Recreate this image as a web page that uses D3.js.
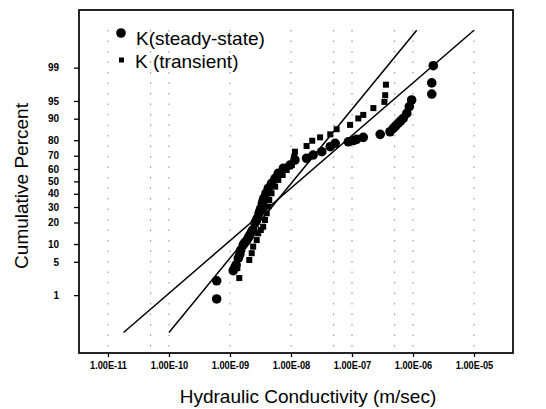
<!DOCTYPE html>
<html>
<head>
<meta charset="utf-8">
<script src="https://cdn.jsdelivr.net/npm/d3@7"></script>
<style>
  body { margin: 0; background: #fff; }
  svg { font-family: "Liberation Sans", Arial, sans-serif; }
</style>
</head>
<body>
<div id="chart"></div>
<script>
// probability plot of hydraulic conductivity

var xTicks = [1e-11, 1e-10, 1e-9, 1e-8, 1e-7, 1e-6, 1e-5];
var xGrid = [1e-11, 5e-11, 1e-10, 1e-9, 1e-8, 5e-8, 1e-7, 5e-7, 1e-6, 1e-5];
var yTicks = [1, 5, 10, 20, 30, 40, 50, 60, 70, 80, 90, 95, 99];

// K (m/sec), cumulative percent
var steadyK = [6.05e-10, 6.05e-10, 1.13e-9, 1.2e-9, 1.26e-9, 1.37e-9, 1.45e-9, 1.5e-9, 1.65e-9, 1.75e-9,
  1.88e-9, 2.0e-9, 2.13e-9, 2.25e-9, 2.36e-9, 2.57e-9, 2.7e-9, 2.8e-9, 3.0e-9, 3.1e-9,
  3.2e-9, 3.4e-9, 3.5e-9, 3.6e-9, 3.9e-9, 4.25e-9, 4.8e-9, 5.5e-9, 6.2e-9, 7.5e-9,
  9.6e-9, 1.16e-8, 1.8e-8, 2.3e-8, 3.2e-8, 4.4e-8, 5.3e-8, 8.7e-8, 1.05e-7, 1.19e-7,
  1.53e-7, 2.9e-7, 4.2e-7, 4.75e-7, 5.2e-7, 5.75e-7, 6.3e-7, 6.9e-7, 7.9e-7, 8.7e-7,
  9.5e-7, 2.03e-6, 2.03e-6, 2.15e-6];
var steadyP = [0.81, 2.1, 3.4, 3.9, 4.4, 5.8, 6.8, 8.0, 9.7, 10.5,
  11.3, 12.5, 13.7, 15.0, 16.0, 19.6, 21.0, 22.5, 25.7, 27.3,
  29.1, 32.7, 34.6, 36.5, 40.4, 44.4, 48.4, 52.5, 56.6, 60.6,
  63.1, 66.9, 68.2, 70.5, 72.8, 76.1, 78.2, 79.1, 79.8, 80.5,
  81.6, 83.2, 84.5, 86.1, 87.2, 88.3, 89.2, 90.1, 91.8, 93.7,
  95.2, 96.3, 97.8, 99.1];

var transK = [1.42e-9, 1.32e-9, 2.07e-9, 2.27e-9, 2.4e-9, 2.74e-9, 2.9e-9, 3.2e-9, 3.5e-9, 3.75e-9,
  4.0e-9, 4.25e-9, 4.4e-9, 4.8e-9, 5.5e-9, 6.2e-9, 7.3e-9, 8.5e-9, 1.03e-8, 1.13e-8,
  1.16e-8, 1.8e-8, 2.23e-8, 3.0e-8, 4.4e-8, 5.6e-8, 9.3e-8, 1.27e-7, 1.53e-7, 2.24e-7,
  3.4e-7, 3.5e-7, 3.6e-7];
var transP = [2.4, 3.8, 5.4, 7.1, 9.1, 11.5, 14.4, 16.0, 17.7, 21.5,
  25.7, 30.3, 35.2, 40.4, 45.7, 51.2, 55.2, 59.2, 63.1, 69.3,
  72.8, 76.5, 79.7, 81.6, 83.2, 85.7, 87.6, 90.1, 91.3, 93.3,
  94.8, 96.1, 97.6];

// fitted lognormal lines, end points
var fitSteepK = [1e-10, 1.15e-6];
var fitSteepP = [0.1, 99.9];
var fitFlatK = [1.8e-11, 1e-5];
var fitFlatP = [0.1, 99.9];

// inverse normal cdf (Acklam)
function probit(p) {
  var a = [-3.969683028665376e+01, 2.209460984245205e+02, -2.759285104469687e+02, 1.383577518672690e+02, -3.066479806614716e+01, 2.506628277459239e+00];
  var b = [-5.447609879822406e+01, 1.615858368580409e+02, -1.556989798598866e+02, 6.680131188771972e+01, -1.328068155288572e+01];
  var c = [-7.784894002430293e-03, -3.223964580411365e-01, -2.400758277161838e+00, -2.549732539343734e+00, 4.374664141464968e+00, 2.938163982698783e+00];
  var d = [7.784695709041462e-03, 3.224671290700398e-01, 2.445134137142996e+00, 3.754408661907416e+00];
  var q, r;
  if (p < 0.02425) {
    q = Math.sqrt(-2 * Math.log(p));
    return (((((c[0]*q+c[1])*q+c[2])*q+c[3])*q+c[4])*q+c[5]) / ((((d[0]*q+d[1])*q+d[2])*q+d[3])*q+1);
  } else if (p > 1 - 0.02425) {
    q = Math.sqrt(-2 * Math.log(1 - p));
    return -(((((c[0]*q+c[1])*q+c[2])*q+c[3])*q+c[4])*q+c[5]) / ((((d[0]*q+d[1])*q+d[2])*q+d[3])*q+1);
  }
  q = p - 0.5; r = q * q;
  return (((((a[0]*r+a[1])*r+a[2])*r+a[3])*r+a[4])*r+a[5])*q / (((((b[0]*r+b[1])*r+b[2])*r+b[3])*r+b[4])*r+1);
}

var W = 546, H = 409;
var box = {left: 79, top: 10, right: 513, bottom: 353};

var svg = d3.select("#chart").append("svg")
  .attr("width", W).attr("height", H);

var x = d3.scaleLog()
  .domain([Math.pow(10, -11.475), Math.pow(10, -4.361)])
  .range([box.left, box.right]);

var z = d3.scaleLinear()
  .domain([-3.51, 3.505])
  .range([box.bottom, box.top]);
function y(pct) { return z(probit(pct / 100)); }

function fmtE(v) {
  var e = Math.round(Math.log10(v));
  var s = Math.abs(e) < 10 ? "0" + Math.abs(e) : "" + Math.abs(e);
  return "1.00E" + (e < 0 ? "-" : "+") + s;
}

// faint dotted grid
svg.append("g").selectAll("line")
  .data(xGrid).enter().append("line")
  .attr("x1", function(d) { return x(d); }).attr("x2", function(d) { return x(d); })
  .attr("y1", box.top + 20).attr("y2", box.bottom - 4)
  .attr("stroke", "#888").attr("stroke-width", 1)
  .attr("stroke-dasharray", "1.5,9");

// axes
var xAxis = d3.axisBottom(x).tickValues(xTicks).tickFormat(fmtE).tickSize(4).tickSizeOuter(0);
var gx = svg.append("g").attr("transform", "translate(0," + box.bottom + ")").call(xAxis);
gx.select(".domain").remove();
gx.selectAll("line").attr("stroke", "#000").attr("stroke-width", 1.3);
gx.selectAll("text")
  .attr("y", 13).attr("dy", "0.32em")
  .attr("transform", "scale(0.88,1)")
  .style("font-size", "10.5px").style("font-weight", "bold");

var yAxis = d3.axisLeft(z).tickValues(yTicks.map(function(p) { return probit(p / 100); }))
  .tickFormat(function(v, i) { return yTicks[i]; }).tickSize(5).tickSizeOuter(0);
var gy = svg.append("g").attr("transform", "translate(" + box.left + ",0)").call(yAxis);
gy.select(".domain").remove();
gy.selectAll("line").attr("stroke", "#000").attr("stroke-width", 1.3);
gy.selectAll("text").attr("x", -20).style("font-size", "10px").style("font-weight", "bold");

// frame
svg.append("rect")
  .attr("x", box.left).attr("y", box.top)
  .attr("width", box.right - box.left).attr("height", box.bottom - box.top)
  .attr("fill", "none").attr("stroke", "#000").attr("stroke-width", 1.7);

// fit lines
var line = d3.line()
  .x(function(d) { return x(d[0]); })
  .y(function(d) { return y(d[1]); });
[[fitSteepK, fitSteepP], [fitFlatK, fitFlatP]].forEach(function(f) {
  svg.append("path")
    .datum(d3.zip(f[0], f[1]))
    .attr("d", line)
    .attr("fill", "none").attr("stroke", "#000").attr("stroke-width", 1.5);
});

// points
svg.append("g").selectAll("circle")
  .data(d3.zip(steadyK, steadyP)).enter().append("circle")
  .attr("cx", function(d) { return x(d[0]); })
  .attr("cy", function(d) { return y(d[1]); })
  .attr("r", 4.8).attr("fill", "#000");

svg.append("g").selectAll("rect")
  .data(d3.zip(transK, transP)).enter().append("rect")
  .attr("x", function(d) { return x(d[0]) - 3; })
  .attr("y", function(d) { return y(d[1]) - 3; })
  .attr("width", 6).attr("height", 6).attr("fill", "#000");

// legend
var lg = svg.append("g");
lg.append("circle").attr("cx", 121).attr("cy", 33).attr("r", 4.8).attr("fill", "#000");
lg.append("text").attr("x", 136).attr("y", 45).text("K(steady-state)")
  .style("font-size", "19px");
lg.append("rect").attr("x", 119).attr("y", 57.5).attr("width", 5).attr("height", 5).attr("fill", "#000");
lg.append("text").attr("x", 135).attr("y", 68).text("K (transient)")
  .style("font-size", "19px");

// axis titles
svg.append("text")
  .attr("x", 308).attr("y", 403)
  .attr("text-anchor", "middle")
  .style("font-size", "19px")
  .text("Hydraulic Conductivity (m/sec)");

svg.append("text")
  .attr("transform", "translate(28,186) rotate(-90)")
  .attr("text-anchor", "middle")
  .style("font-size", "19px")
  .text("Cumulative Percent");
</script>
</body>
</html>
